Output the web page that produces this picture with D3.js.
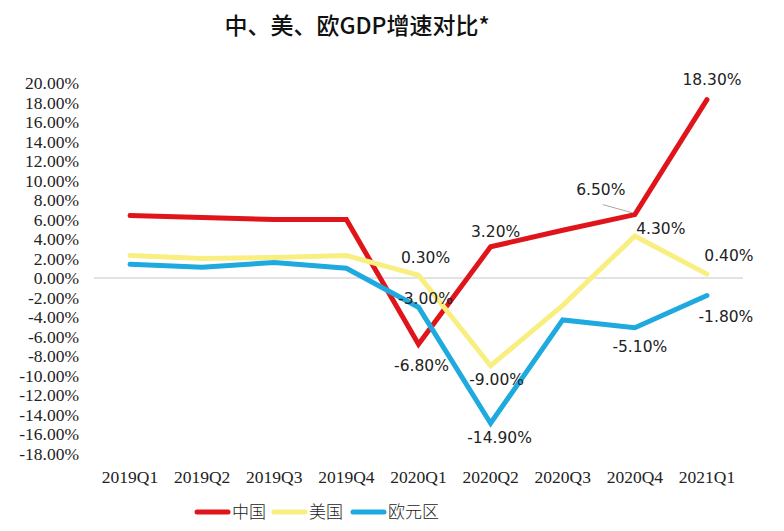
<!DOCTYPE html>
<html><head><meta charset="utf-8">
<script src="https://cdn.jsdelivr.net/npm/d3@7"></script>
<style>body{margin:0;background:#fff}svg{display:block}</style>
</head><body>
<svg id="c" width="784" height="531"></svg>
<script>
const categories = ["2019Q1","2019Q2","2019Q3","2019Q4","2020Q1","2020Q2","2020Q3","2020Q4","2021Q1"];
const china = [6.4, 6.2, 6.0, 6.0, -6.8, 3.2, 4.9, 6.5, 18.3];
const usa = [2.3, 2.0, 2.1, 2.3, 0.3, -9.0, -2.8, 4.3, 0.4];
const euro = [1.4, 1.1, 1.6, 1.0, -3.0, -14.9, -4.3, -5.1, -1.8];
const yTicks = [20,18,16,14,12,10,8,6,4,2,0,-2,-4,-6,-8,-10,-12,-14,-16,-18];
const seriesNames = ["中国","美国","欧元区"];
const seriesColors = ["#E0141B","#F8EF80","#1FAADF"];
// labelled points: [seriesIndex, categoryIndex]
const labelled = [[0,4],[0,5],[0,7],[0,8],[1,4],[1,5],[1,7],[1,8],[2,4],[2,5],[2,7],[2,8]];
// label offsets (layout)
const labelOffsets = [[3,21],[5,-15],[-34,-25],[5,-20],[7,-18],[6,14],[26,-8],[22,-19],[7,-9],[9,14],[5,19],[19,21]];

const loc = d3.formatLocale({decimal:".", thousands:",", grouping:[3], currency:["",""], minus:"-"});
const pct = d => loc.format(".2f")(d) + "%";

const svg = d3.select("#c");
const x = d3.scaleBand().domain(categories).range([94,743]).padding(0);
const y = d3.scaleLinear().domain([-18,20]).range([453.5,83]);
const cx = c => x(c) + x.bandwidth()/2;
const data = [china, usa, euro];

// title
svg.append("text").attr("x",357).attr("y",34).attr("text-anchor","middle")
  .attr("font-family","'Noto Sans CJK SC'").attr("font-weight",500).attr("font-size",23)
  .attr("fill","#111").text("中、美、欧GDP增速对比*");

// y axis labels
const yAxis = d3.axisLeft(y).tickValues(yTicks).tickSize(0).tickPadding(0).tickFormat(pct);
const ga = svg.append("g").attr("transform","translate(79,0)").call(yAxis);
ga.select(".domain").remove();
ga.selectAll("text").attr("font-family","'Liberation Serif'").attr("font-size",17.5).attr("fill","#222");

// x axis labels
const xAxis = d3.axisBottom(x).tickSize(0).tickPadding(0);
const gx = svg.append("g").attr("transform","translate(0,471)").call(xAxis);
gx.select(".domain").remove();
gx.selectAll("text").attr("font-family","'Liberation Serif'").attr("font-size",17.5).attr("fill","#222");

// zero line
svg.append("line").attr("x1",94).attr("x2",743).attr("y1",y(0)).attr("y2",y(0))
  .attr("stroke","#D9D9D9").attr("stroke-width",1.5);

// lines
const line = d3.line().x((d,i)=>cx(categories[i])).y(d=>y(d));
data.forEach((s,k)=>{
  svg.append("path").attr("d",line(s)).attr("fill","none")
    .attr("stroke",seriesColors[k]).attr("stroke-width",5)
    .attr("stroke-linejoin","miter").attr("stroke-linecap","round");
});

// labels
labelled.forEach(([k,i],j)=>{
  const px = cx(categories[i]), py = y(data[k][i]);
  const [dx,dy] = labelOffsets[j];
  if (Math.abs(dx) > 30) {
    svg.append("line").attr("x1",px-3).attr("y1",py-2).attr("x2",px+dx+2).attr("y2",py+dy+15)
      .attr("stroke","#A6A6A6").attr("stroke-width",1);
  }
  svg.append("text").attr("x",px+dx).attr("y",py+dy).attr("dy","0.35em")
    .attr("text-anchor","middle").attr("font-family","'DejaVu Sans'").attr("font-size",15.5)
    .attr("fill","#222").text(pct(data[k][i]));
});

// legend
const legendX = [197,274,353];
seriesNames.forEach((n,k)=>{
  svg.append("line").attr("x1",legendX[k]).attr("x2",legendX[k]+31).attr("y1",512).attr("y2",512)
    .attr("stroke",seriesColors[k]).attr("stroke-width",5).attr("stroke-linecap","round");
  svg.append("text").attr("x",legendX[k]+35).attr("y",512).attr("dy","0.35em")
    .attr("font-family","'Noto Sans CJK SC'").attr("font-weight",300).attr("font-size",17)
    .attr("fill","#222").text(n);
});
</script>
</body></html>
